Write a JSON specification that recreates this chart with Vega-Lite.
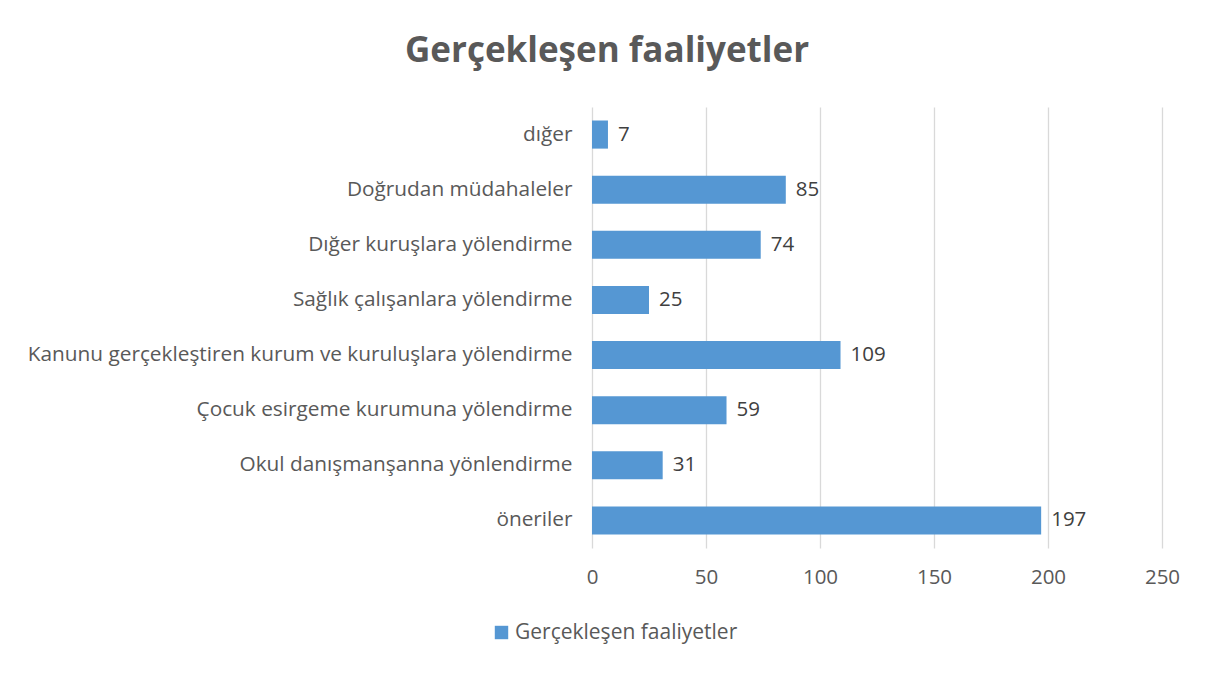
{
  "$schema": "https://vega.github.io/schema/vega-lite/v6.json",
  "width": 570,
  "height": 441,
  "autosize": {"type": "none"},
  "padding": {"left": 592, "top": 107, "right": 52, "bottom": 127},
  "background": "white",
  "title": {
    "text": "Gerçekleşen faaliyetler",
    "font": "Open Sans",
    "fontSize": 35,
    "fontWeight": "bold",
    "color": "#595959",
    "anchor": "middle",
    "dx": -270,
    "offset": 38
  },
  "config": {
    "view": {"stroke": null},
    "font": "Open Sans"
  },
  "data": {
    "values": [
      {"kategori": "dığer", "deger": 7, "seri": "Gerçekleşen faaliyetler"},
      {"kategori": "Doğrudan müdahaleler", "deger": 85, "seri": "Gerçekleşen faaliyetler"},
      {"kategori": "Dığer kuruşlara yölendirme", "deger": 74, "seri": "Gerçekleşen faaliyetler"},
      {"kategori": "Sağlık çalışanlara yölendirme", "deger": 25, "seri": "Gerçekleşen faaliyetler"},
      {"kategori": "Kanunu gerçekleştiren kurum ve kuruluşlara yölendirme", "deger": 109, "seri": "Gerçekleşen faaliyetler"},
      {"kategori": "Çocuk esirgeme kurumuna yölendirme", "deger": 59, "seri": "Gerçekleşen faaliyetler"},
      {"kategori": "Okul danışmanşanna yönlendirme", "deger": 31, "seri": "Gerçekleşen faaliyetler"},
      {"kategori": "öneriler", "deger": 197, "seri": "Gerçekleşen faaliyetler"}
    ]
  },
  "encoding": {
    "y": {
      "field": "kategori",
      "type": "nominal",
      "sort": null,
      "scale": {"paddingInner": 0.49, "paddingOuter": 0.245},
      "axis": {
        "title": null,
        "domain": false,
        "ticks": false,
        "labelPadding": 20,
        "labelFontSize": 20.8,
        "labelColor": "#595959",
        "labelFont": "Open Sans",
        "labelLimit": 700
      }
    },
    "x": {
      "field": "deger",
      "type": "quantitative",
      "scale": {"domain": [0, 250], "nice": false},
      "axis": {
        "title": null,
        "values": [0, 50, 100, 150, 200, 250],
        "domain": false,
        "ticks": false,
        "grid": true,
        "gridColor": "#d9d9d9",
        "gridWidth": 1.3,
        "labelPadding": 19,
        "labelFontSize": 20.5,
        "labelColor": "#595959",
        "labelFont": "Open Sans",
        "labelFlush": false
      }
    }
  },
  "layer": [
    {
      "mark": {"type": "bar", "color": "#5597d3"},
      "encoding": {
        "color": {
          "field": "seri",
          "type": "nominal",
          "scale": {"range": ["#5597d3"]},
          "legend": {
            "title": null,
            "orient": "none",
            "legendX": -101,
            "legendY": 515,
            "symbolType": "square",
            "symbolSize": 180,
            "symbolStrokeWidth": 0,
            "labelFontSize": 21,
            "labelColor": "#595959",
            "labelFont": "Open Sans",
            "labelOffset": 3,
            "labelLimit": 400
          }
        }
      }
    },
    {
      "mark": {"type": "text", "align": "left", "dx": 10, "fontSize": 20.5, "color": "#404040", "font": "Open Sans"},
      "encoding": {"text": {"field": "deger", "type": "quantitative"}}
    }
  ]
}
